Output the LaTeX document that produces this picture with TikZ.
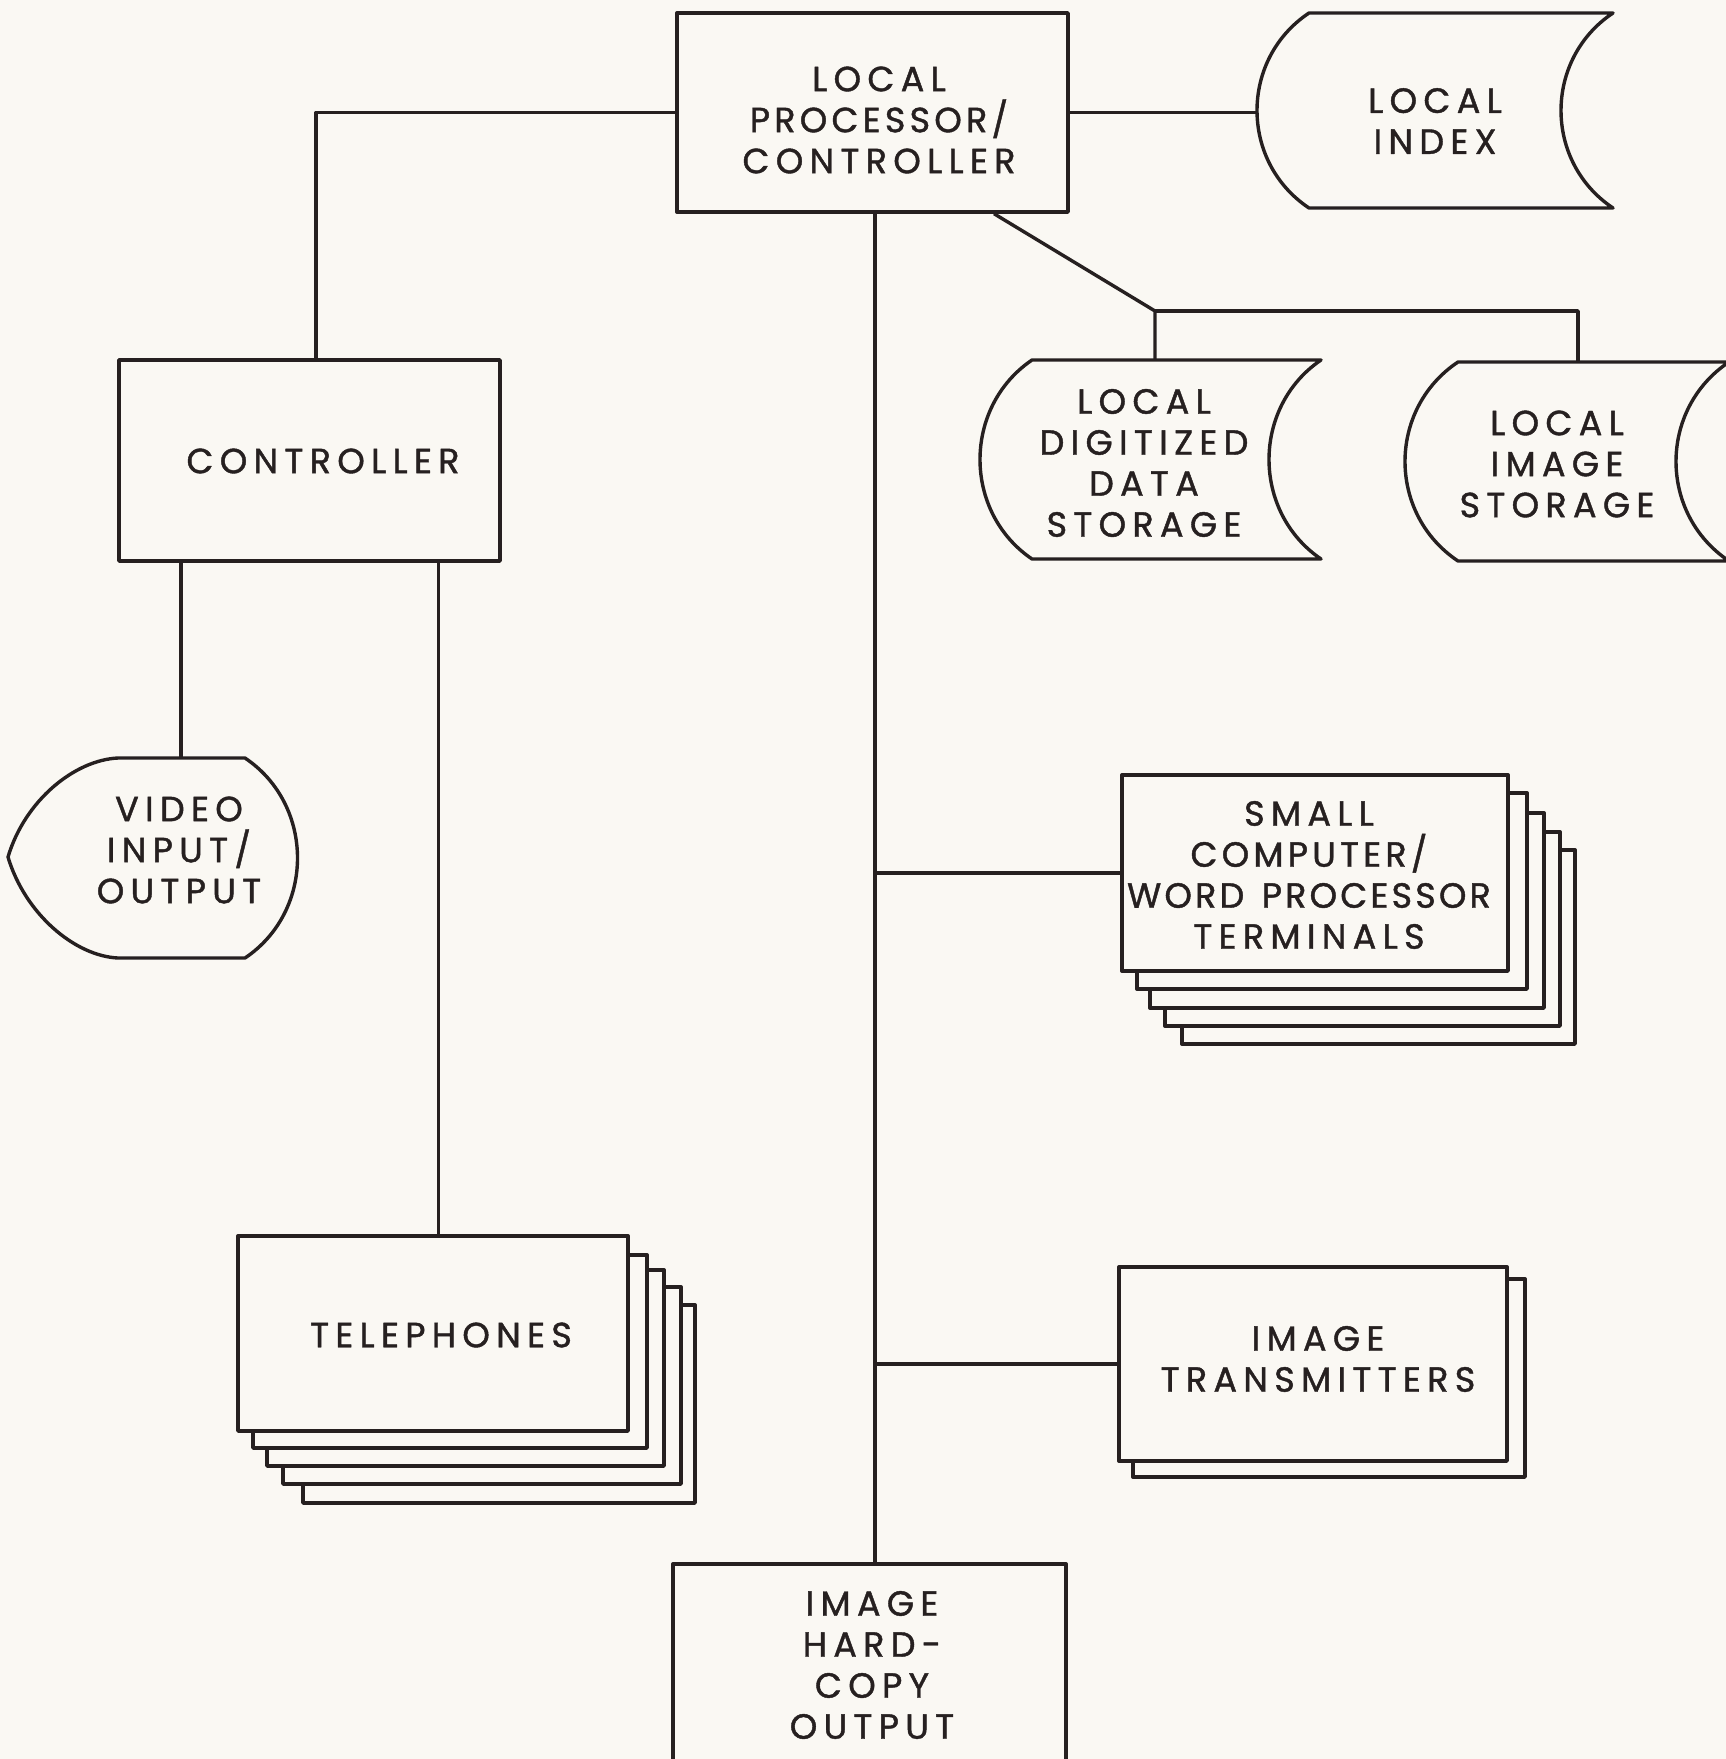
\documentclass[tikz,border=0pt]{standalone}
\usepackage{fontspec}
\setmainfont[LetterSpace=18,FakeBold=1.2]{Poppins}
\usetikzlibrary{calc}
\definecolor{paper}{RGB}{250,248,243}
\definecolor{ink}{RGB}{38,32,32}
\newcommand\lblfont{\fontsize{35}{41}\selectfont}
\newcommand\tightline{\addfontfeature{LetterSpace=9}\spaceskip=0.5em\relax}
\newcommand\slashline{\addfontfeature{LetterSpace=12}}
% stored-data outline: left chord x, right chord x, top y, bottom y, bulge
\newcommand\storedata[5]{%
  \draw[fill=paper] (#1,#3) -- (#2,#3)
    .. controls ({#2-#5*4/3},{#3+0.237*(#4-#3)}) and ({#2-#5*4/3},{#4-0.237*(#4-#3)}) .. (#2,#4)
    -- (#1,#4)
    .. controls ({#1-#5*4/3},{#4-0.237*(#4-#3)}) and ({#1-#5*4/3},{#3+0.237*(#4-#3)}) .. cycle;}
\begin{document}
\begin{tikzpicture}[x=1pt,y=-1pt,line width=3.4pt,draw=ink,line join=round,
  box/.style={draw=ink,fill=paper,inner sep=0pt},
  txt/.style={inner sep=0pt,align=center,font=\lblfont,text=ink}]
\useasboundingbox (0,0) rectangle (1726,1759);
\fill[paper] (0,0) rectangle (1726,1759);
\clip (0,0) rectangle (1726,1759);

% main processor and controller
\node[box,minimum width=391pt,minimum height=199pt] (proc) at (872.5,112.5) {};
\node[txt] (proc-t) at (879,120) {LOCAL\\{\slashline PROCESSOR/}\\CONTROLLER};
\node[box,minimum width=381pt,minimum height=201pt] (ctrl) at (309.5,460.5) {};
\node[txt] (ctrl-t) at (323,461) {CONTROLLER};

% local index
\storedata{1309}{1613}{13}{208}{52}
\node[txt] (lidx) at (1435,121) {LOCAL\\INDEX};
\coordinate (lidx-w) at (1256,112);

% local digitized data storage
\storedata{1032}{1321}{360}{559}{52}
\node[txt] (dds) at (1144,463) {LOCAL\\DIGITIZED\\DATA\\STORAGE};
\coordinate (dds-n) at (1155,360);

% local image storage
\storedata{1458}{1729}{362}{561}{53}
\node[txt] (lis) at (1557,464) {LOCAL\\IMAGE\\STORAGE};
\coordinate (lis-n) at (1578,362);

% video input/output display
\draw[fill=paper] (118,758) -- (245,758)
  .. controls (315,805) and (315,911) .. (245,958)
  -- (118,958)
  .. controls (75,956) and (25,914) .. (8,857)
  .. controls (25,800) and (75,760) .. cycle;
\node[txt] (vio) at (179,850) {VIDEO\\INPUT/\\OUTPUT};
\coordinate (vio-n) at (181,758);

% telephones stack
\draw[fill=paper] (303,1305) rectangle (695,1503);
\draw[fill=paper] (283,1287) rectangle (681,1484);
\draw[fill=paper] (267,1270) rectangle (664,1466);
\draw[fill=paper] (253,1255) rectangle (647,1448);
\node[box,minimum width=390pt,minimum height=195pt] (tel) at (433,1333.5) {};
\node[txt] (tel-t) at (441,1335) {TELEPHONES};

% terminals stack
\draw[fill=paper] (1182,850) rectangle (1575,1044);
\draw[fill=paper] (1165,832) rectangle (1560,1026);
\draw[fill=paper] (1150,813) rectangle (1544,1008);
\draw[fill=paper] (1137,793) rectangle (1527,989);
\node[box,minimum width=386pt,minimum height=196pt] (sc) at (1315,873) {};
\node[txt] (sc-t) at (1309,875)
  {SMALL\\{\slashline COMPUTER/}\\{\tightline WORD PROCESSOR}\\TERMINALS};

% image transmitters
\draw[fill=paper] (1133,1279) rectangle (1525,1477);
\node[box,minimum width=388pt,minimum height=194pt] (it) at (1313,1364) {};
\node[txt] (it-t) at (1318,1359) {IMAGE\\TRANSMITTERS};

% hard-copy output
\node[box,minimum width=393pt,minimum height=226pt] (hc) at (869.5,1677) {};
\node[txt] (hc-t) at (872,1665) {IMAGE\\HARD-\\COPY\\OUTPUT};

% connections
\coordinate (trunk) at ($(proc.south)+(2.5,0)$);
\draw (proc.east) -- (proc.east -| lidx-w);
\draw (proc.west) -| ($(ctrl.north)+(6.5,0)$);
\draw (vio-n |- ctrl.south) -- (vio-n);
\draw ($(tel.north |- ctrl.south)+(5.5,0)$) -- ($(tel.north)+(5.5,0)$);
\draw (trunk) -- (trunk |- hc.north);
\draw (trunk |- sc.west) -- (sc.west);
\draw (trunk |- it.west) -- (it.west);
\coordinate (dj) at (1155,311);
\draw ($(proc.south)+(121.5,0)$) -- (dj) -- (dds-n);
\draw (dj) -- (lis-n |- dj) -- (lis-n);
\end{tikzpicture}
\end{document}
